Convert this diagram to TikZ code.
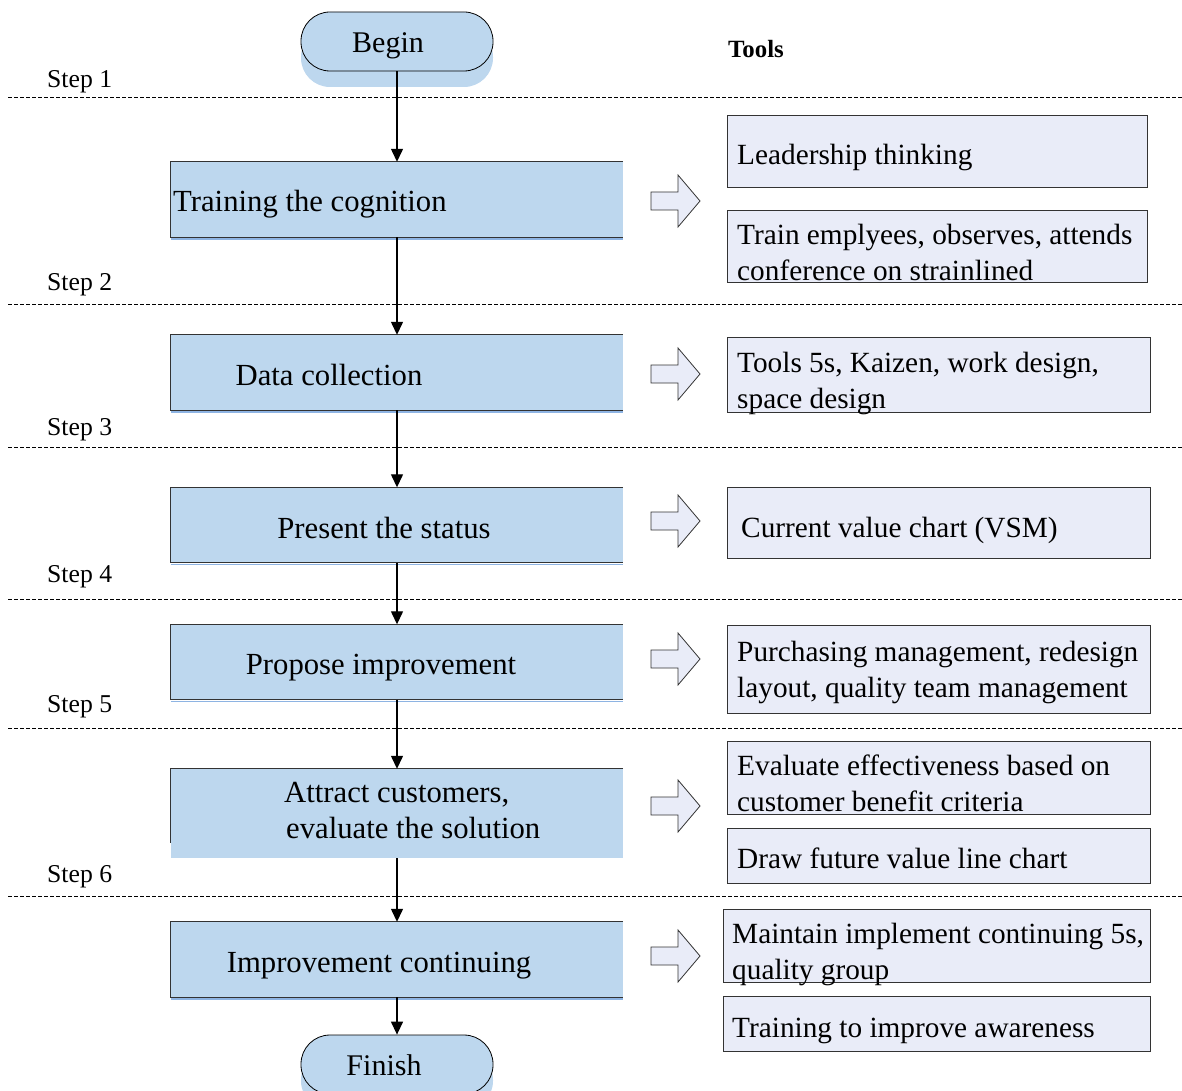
\documentclass[tikz,border=0pt]{standalone}
\usepackage{fontspec}
\setmainfont{Liberation Serif}
\usetikzlibrary{arrows.meta,shadows}

\definecolor{stepblue}{HTML}{BDD7EE}
\definecolor{toolfill}{HTML}{E9ECF8}
\definecolor{edgeblue}{HTML}{8EB4E3}
\definecolor{darkline}{HTML}{333333}

\tikzset{
  terminal/.style={rounded corners=29pt, fill=stepblue, draw=black, line width=0.8pt,
    minimum width=192pt, minimum height=59pt, font=\fontsize{30}{36}\selectfont,
    text height=26pt, text depth=4pt,
    general shadow={fill=stepblue, shadow yshift=-16pt}},
  stepbox/.style={fill=stepblue, minimum width=452pt, minimum height=75pt, inner sep=0pt},
  steptext/.style={font=\fontsize{30.7}{36}\selectfont, align=center, inner sep=0pt},
  oneline/.style={text height=26.5pt, text depth=7pt},
  toolbox/.style={draw=darkline, fill=toolfill, line width=0.8pt, inner sep=0pt},
  tooltext/.style={font=\fontsize{29.3}{36}\selectfont, align=left, anchor=west, inner sep=0pt},
  steplabel/.style={font=\fontsize{25.7}{30}\selectfont, anchor=west, inner sep=0pt,
    text height=23pt, text depth=6pt},
  flow/.style={-{Triangle[length=13pt,width=12pt]}, line width=1.3pt},
  blockarr/.style={draw=darkline, fill=toolfill, line width=0.8pt},
}

\begin{document}
\begin{tikzpicture}[x=1pt,y=-1pt]
\useasboundingbox (0,0) rectangle (1182,1091);

% steps and dashed separators
\foreach \y/\ly/\k in {97/79/1,304/282/2,447/427/3,599/574/4,728/704/5,896/874/6} {
  \draw[dash pattern=on 4pt off 2pt, line width=0.9pt] (8,\y) -- (1182,\y);
  \node[steplabel] (step\k) at (47,\ly) {Step \k};
}
\node[font=\bfseries\fontsize{24.8}{30}\selectfont, anchor=west, inner sep=0pt] (tools) at (728,49) {Tools};

% main flow
\node[terminal] (begin) at (397,41.5) {\hspace*{-18pt}Begin};

\node[stepbox] (s1) at (397,199.5) {};
\node[steptext, oneline, anchor=west] (s1txt) at (173,202) {Training the cognition};

\node[stepbox] (s2) at (397,372.5) {};
\node[steptext, oneline] (s2txt) at (329,375.5) {Data collection};

\node[stepbox] (s3) at (397,525) {};
\node[steptext, oneline] (s3txt) at (384,529) {Present the status};

\node[stepbox] (s4) at (397,662) {};
\node[steptext, oneline] (s4txt) at (381,665) {Propose improvement};

\node[stepbox, minimum height=89pt] (s5) at (397,813.5) {};
\node[steptext, align=left, anchor=west] (s5txt) at (284,811) {Attract customers,\\\hspace*{2pt}evaluate the solution};

\node[stepbox] (s6) at (397,959.5) {};
\node[steptext, oneline] (s6txt) at (379,963) {Improvement continuing};

\node[terminal] (finish) at (397,1064.5) {\hspace*{-26pt}Finish};

\foreach \n in {s1,s2,s3,s4,s6} {
  \draw[darkline, line width=0.8pt] (\n.north east) -- (\n.north west) -- (\n.south west) -- (\n.south east);
  \draw[edgeblue, line width=1.5pt] ([yshift=-2pt]\n.south west) -- ([yshift=-2pt]\n.south east);
}
\draw[darkline, line width=0.8pt] (s5.north east) -- (s5.north west) -- ++(0,74);

\draw[flow] (begin) -- (s1);
\draw[flow] (s1) -- (s2);
\draw[flow] (s2) -- (s3);
\draw[flow] (s3) -- (s4);
\draw[flow] (s4) -- (s5);
\draw[flow] (s5) -- (s6);
\draw[flow] (s6) -- (finish);

% block arrows
\foreach \y in {201,374,521,659,806,956}
  \draw[blockarr] (651,\y-9) -- (678,\y-9) -- (678,\y-26) -- (700,\y) -- (678,\y+26) -- (678,\y+9) -- (651,\y+9) -- cycle;

% tools
\node[toolbox, minimum width=420pt, minimum height=72pt] (t1) at (937,151) {};
\node[tooltext, oneline] (t1txt) at (737,155) {Leadership thinking};

\node[toolbox, minimum width=420pt, minimum height=72pt] (t2) at (937,246) {};
\node[tooltext] (t2txt) at (737,252) {Train emplyees, observes, attends\\conference on strainlined};

\node[toolbox, minimum width=423pt, minimum height=75pt] (t3) at (938.5,374.5) {};
\node[tooltext] (t3txt) at (737,383) {Tools 5s, Kaizen, work design,\\space design};

\node[toolbox, minimum width=423pt, minimum height=71pt] (t4) at (938.5,522.5) {};
\node[tooltext, oneline] (t4txt) at (741,528) {Current value chart (VSM)};

\node[toolbox, minimum width=423pt, minimum height=88pt] (t5) at (938.5,669) {};
\node[tooltext] (t5txt) at (737,672) {Purchasing management, redesign\\layout, quality team management};

\node[toolbox, minimum width=423pt, minimum height=73pt] (t6) at (938.5,777.5) {};
\node[tooltext] (t6txt) at (737,783) {Evaluate effectiveness based on\\customer benefit criteria};

\node[toolbox, minimum width=423pt, minimum height=55pt] (t7) at (938.5,855.5) {};
\node[tooltext, oneline] (t7txt) at (737,859) {Draw future value line chart};

\node[toolbox, minimum width=427pt, minimum height=73pt] (t8) at (936.5,945.5) {};
\node[tooltext] (t8txt) at (732,954) {Maintain implement continuing 5s,\\quality group};

\node[toolbox, minimum width=427pt, minimum height=55pt] (t9) at (936.5,1023.5) {};
\node[tooltext, oneline] (t9txt) at (732,1028) {Training to improve awareness};

\end{tikzpicture}
\end{document}
